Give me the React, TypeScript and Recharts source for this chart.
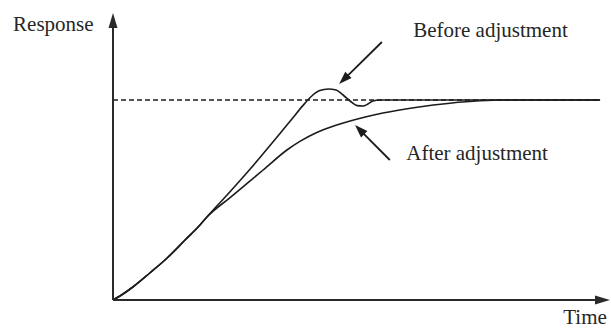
import React from 'react';
import { ComposedChart, Line, XAxis, YAxis, ReferenceLine, ReferenceDot } from 'recharts';

// Time (0..100) and normalized response (steady state = 1)
const beforeTime = [0, 1.4, 4.0, 7.4, 10.9, 14.5, 17.5, 18.9, 23.5, 27.6, 31.0, 33.6, 36.0, 38.2, 40.0, 41.6, 43.3, 44.9, 46.3, 47.7, 49.1, 50.3, 51.3, 52.3, 53.7, 98.0];
const beforeResponse = [0, 0.02, 0.065, 0.135, 0.21, 0.3, 0.375, 0.415, 0.54, 0.655, 0.755, 0.832, 0.905, 0.972, 1.02, 1.047, 1.055, 1.05, 1.025, 0.995, 0.972, 0.97, 0.98, 0.995, 1.0, 1.0];

const afterTime = [0, 1.4, 4.0, 7.4, 10.9, 14.5, 17.5, 18.9, 23.5, 30.2, 35.0, 37.6, 41.0, 44.7, 47.7, 54.3, 61.2, 67.8, 73.8, 78.5, 98.0];
const afterResponse = [0, 0.02, 0.065, 0.135, 0.21, 0.3, 0.375, 0.415, 0.511, 0.65, 0.75, 0.793, 0.8375, 0.8725, 0.8955, 0.935, 0.964, 0.984, 0.996, 1.0, 1.0];

const setpoint = 1;
const xDomain: [number, number] = [0, 100];
const yDomain: [number, number] = [0, 1.435];

const labels = {
  yAxis: 'Response',
  xAxis: 'Time',
  before: 'Before adjustment',
  after: 'After adjustment',
};

const beforeData = beforeTime.map((t, i) => ({ t, v: beforeResponse[i] }));
const afterData = afterTime.map((t, i) => ({ t, v: afterResponse[i] }));

const INK = '#1c1c1c';
const FONT = '"Liberation Serif", "Times New Roman", serif';

const makeArrow = (headLen: number, headHalf: number, width: number, color: string) => (props: any) => {
  const { x1, y1, x2, y2 } = props;
  if ([x1, y1, x2, y2].some((v) => typeof v !== 'number' || isNaN(v))) return <g />;
  const dx = x2 - x1;
  const dy = y2 - y1;
  const len = Math.sqrt(dx * dx + dy * dy) || 1;
  const ux = dx / len;
  const uy = dy / len;
  const bx = x2 - ux * headLen;
  const by = y2 - uy * headLen;
  const px = -uy * headHalf;
  const py = ux * headHalf;
  return (
    <g>
      <line x1={x1} y1={y1} x2={bx + ux * 2} y2={by + uy * 2} stroke={color} strokeWidth={width} />
      <polygon points={`${x2},${y2} ${bx + px},${by + py} ${bx - px},${by - py}`} fill={color} />
    </g>
  );
};

const AxisArrow = makeArrow(15, 4.5, 2, '#2a2a2a');
const NoteArrow = makeArrow(13, 4.5, 1.8, INK);

const makeText = (text: string) => (props: any) => {
  const { cx, cy } = props;
  return (
    <text x={cx} y={cy} fontFamily={FONT} fontSize={21} fill="#262626">
      {text}
    </text>
  );
};

export default function App() {
  return (
    <div style={{ position: 'absolute', left: 0, top: 0, background: '#fff' }}>
      <ComposedChart width={611} height={329} margin={{ top: 13, right: 1, bottom: 29, left: 113 }}>
        <XAxis dataKey="t" type="number" domain={xDomain} hide allowDataOverflow />
        <YAxis dataKey="v" type="number" domain={yDomain} hide allowDataOverflow />

        <ReferenceLine
          segment={[{ x: 0, y: setpoint }, { x: 98, y: setpoint }]}
          stroke={INK}
          strokeWidth={1.4}
          strokeDasharray="5 3"
          ifOverflow="visible"
        />

        <Line data={afterData} dataKey="v" type="monotone" stroke={INK} strokeWidth={1.6} dot={false} isAnimationActive={false} />
        <Line data={beforeData} dataKey="v" type="monotone" stroke={INK} strokeWidth={1.6} dot={false} isAnimationActive={false} />

        <ReferenceLine segment={[{ x: 0, y: 0 }, { x: 0, y: 1.435 }]} shape={AxisArrow} ifOverflow="visible" />
        <ReferenceLine segment={[{ x: 0, y: 0 }, { x: 100, y: 0 }]} shape={AxisArrow} ifOverflow="visible" />

        <ReferenceLine segment={[{ x: 54.1, y: 1.29 }, { x: 45.5, y: 1.08 }]} shape={NoteArrow} ifOverflow="visible" />
        <ReferenceLine segment={[{ x: 55.7, y: 0.7 }, { x: 48.7, y: 0.875 }]} shape={NoteArrow} ifOverflow="visible" />

        <ReferenceDot x={-20.1} y={1.345} r={0} ifOverflow="visible" shape={makeText(labels.yAxis)} />
        <ReferenceDot x={60.4} y={1.315} r={0} ifOverflow="visible" shape={makeText(labels.before)} />
        <ReferenceDot x={59.0} y={0.7} r={0} ifOverflow="visible" shape={makeText(labels.after)} />
        <ReferenceDot x={90.6} y={-0.118} r={0} ifOverflow="visible" shape={makeText(labels.xAxis)} />
      </ComposedChart>
    </div>
  );
}
